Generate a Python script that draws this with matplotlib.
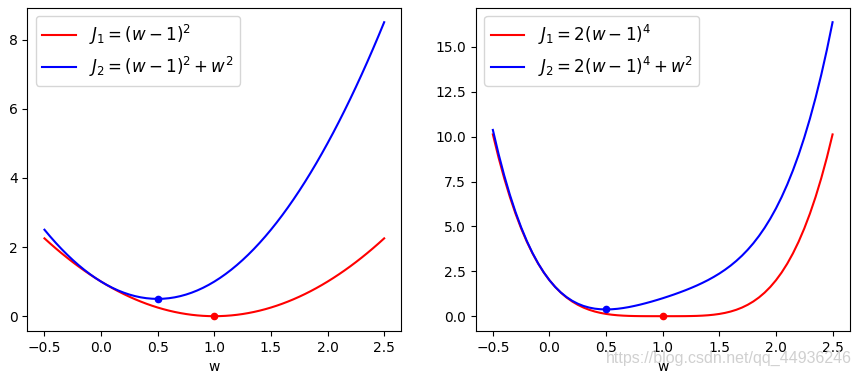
import matplotlib
matplotlib.use("Agg")
import matplotlib.pyplot as plt

w = [-0.5, -0.45, -0.4, -0.35, -0.3, -0.25, -0.2, -0.15, -0.1, -0.05,
     0.0, 0.05, 0.1, 0.15, 0.2, 0.25, 0.3, 0.35, 0.4, 0.45,
     0.5, 0.55, 0.6, 0.65, 0.7, 0.75, 0.8, 0.85, 0.9, 0.95,
     1.0, 1.05, 1.1, 1.15, 1.2, 1.25, 1.3, 1.35, 1.4, 1.45,
     1.5, 1.55, 1.6, 1.65, 1.7, 1.75, 1.8, 1.85, 1.9, 1.95,
     2.0, 2.05, 2.1, 2.15, 2.2, 2.25, 2.3, 2.35, 2.4, 2.45, 2.5]

j1_left = [2.25, 2.1025, 1.96, 1.8225, 1.69, 1.5625, 1.44, 1.3225, 1.21, 1.1025,
           1.0, 0.9025, 0.81, 0.7225, 0.64, 0.5625, 0.49, 0.4225, 0.36, 0.3025,
           0.25, 0.2025, 0.16, 0.1225, 0.09, 0.0625, 0.04, 0.0225, 0.01, 0.0025,
           0.0, 0.0025, 0.01, 0.0225, 0.04, 0.0625, 0.09, 0.1225, 0.16, 0.2025,
           0.25, 0.3025, 0.36, 0.4225, 0.49, 0.5625, 0.64, 0.7225, 0.81, 0.9025,
           1.0, 1.1025, 1.21, 1.3225, 1.44, 1.5625, 1.69, 1.8225, 1.96, 2.1025, 2.25]
j2_left = [2.5, 2.305, 2.12, 1.945, 1.78, 1.625, 1.48, 1.345, 1.22, 1.105,
           1.0, 0.905, 0.82, 0.745, 0.68, 0.625, 0.58, 0.545, 0.52, 0.505,
           0.5, 0.505, 0.52, 0.545, 0.58, 0.625, 0.68, 0.745, 0.82, 0.905,
           1.0, 1.105, 1.22, 1.345, 1.48, 1.625, 1.78, 1.945, 2.12, 2.305,
           2.5, 2.705, 2.92, 3.145, 3.38, 3.625, 3.88, 4.145, 4.42, 4.705,
           5.0, 5.305, 5.62, 5.945, 6.28, 6.625, 6.98, 7.345, 7.72, 8.105, 8.5]

j1_right = [10.125, 8.841, 7.683, 6.643, 5.712, 4.883, 4.147, 3.498, 2.928, 2.431,
            2.000, 1.629, 1.312, 1.044, 0.819, 0.633, 0.480, 0.357, 0.259, 0.183,
            0.125, 0.082, 0.051, 0.030, 0.016, 0.008, 0.003, 0.001, 0.0002, 0.0,
            0.0, 0.0, 0.0002, 0.001, 0.003, 0.008, 0.016, 0.030, 0.051, 0.082,
            0.125, 0.183, 0.259, 0.357, 0.480, 0.633, 0.819, 1.044, 1.312, 1.629,
            2.000, 2.431, 2.928, 3.498, 4.147, 4.883, 5.712, 6.643, 7.683, 8.841, 10.125]
j2_right = [10.375, 9.044, 7.843, 6.766, 5.802, 4.946, 4.187, 3.521, 2.938, 2.434,
            2.000, 1.632, 1.322, 1.067, 0.859, 0.696, 0.570, 0.480, 0.419, 0.386,
            0.375, 0.385, 0.411, 0.453, 0.506, 0.571, 0.643, 0.724, 0.810, 0.903,
            1.000, 1.103, 1.210, 1.324, 1.443, 1.571, 1.706, 1.853, 2.011, 2.185,
            2.375, 2.586, 2.819, 3.080, 3.370, 3.696, 4.059, 4.467, 4.922, 5.432,
            6.000, 6.634, 7.338, 8.121, 8.987, 9.946, 11.002, 12.166, 13.443, 14.844, 16.375]

min_left = {"w1": 1.0, "j1": 0.0, "w2": 0.5, "j2": 0.5}
min_right = {"w1": 1.0, "j1": 0.0, "w2": 0.5, "j2": 0.375}

labels_left = [r"$J_1=(w-1)^2$", r"$J_2=(w-1)^2+w^2$"]
labels_right = [r"$J_1=2(w-1)^4$", r"$J_2=2(w-1)^4+w^2$"]

fig, axes = plt.subplots(1, 2, figsize=(8.59, 3.76), dpi=100)
fig.subplots_adjust(left=0.032, right=0.989, top=0.98, bottom=0.12, wspace=0.2)

for ax, a, b, mn, labs in [(axes[0], j1_left, j2_left, min_left, labels_left),
                            (axes[1], j1_right, j2_right, min_right, labels_right)]:
    ax.plot(w, a, color="red", label=labs[0])
    ax.plot(w, b, color="blue", label=labs[1])
    ax.plot([mn["w1"]], [mn["j1"]], "o", color="red", markersize=4.5)
    ax.plot([mn["w2"]], [mn["j2"]], "o", color="blue", markersize=4.5)
    ax.set_xlabel("w")
    ax.set_xticks([-0.5, 0.0, 0.5, 1.0, 1.5, 2.0, 2.5])
    ax.legend(loc="upper left", fontsize=12)

axes[0].set_yticks([0, 2, 4, 6, 8])
axes[1].set_yticks([0, 2.5, 5, 7.5, 10, 12.5, 15])

fig.text(0.705, 0.048, "https://blog.csdn.net/qq_44936246", color="#d0d0d0",
         fontsize=11.5, family="Liberation Sans", va="center")

fig.savefig("out.png", dpi=100)
